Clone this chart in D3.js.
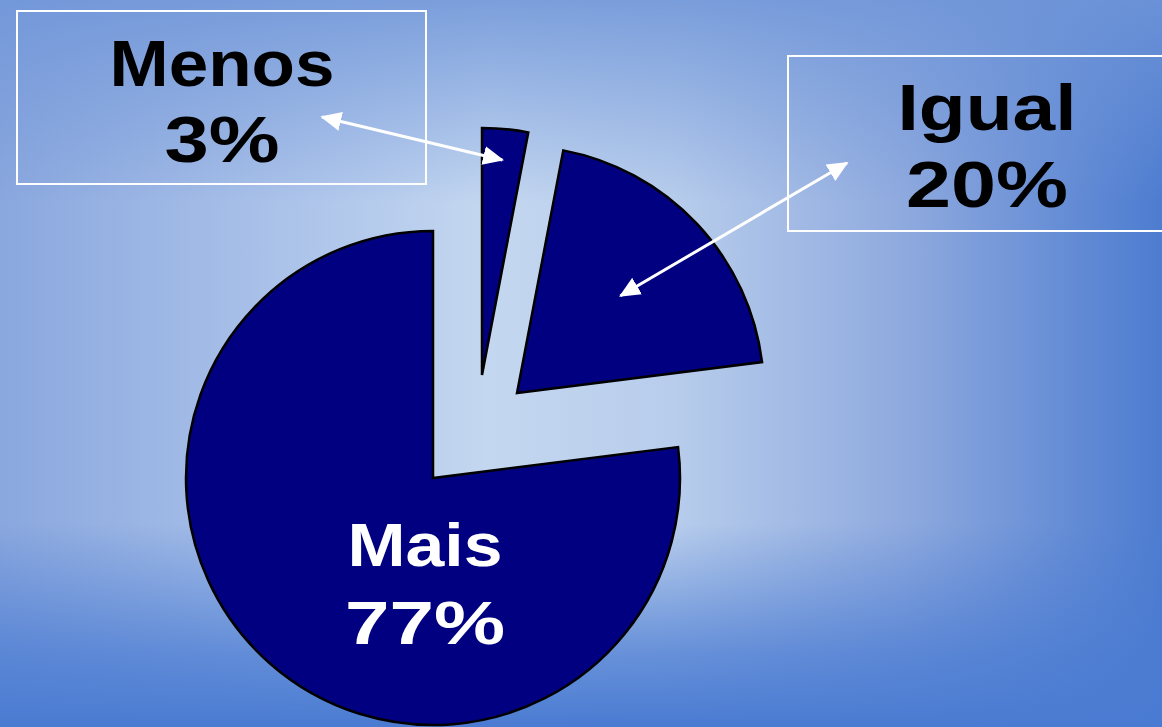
<!DOCTYPE html>
<html>
<head>
<meta charset="utf-8">
<script src="https://cdn.jsdelivr.net/npm/d3@7"></script>
<style>
  html, body { margin: 0; padding: 0; overflow: hidden; }
  svg { display: block; }
  .lbl { font-family: "Liberation Sans", Arial, sans-serif; font-weight: bold; }
</style>
</head>
<body>
<div id="chart"></div>
<script>
const categories = ['Menos', 'Igual', 'Mais'];
const values = [3, 20, 77];
const valueLabels = ['3%', '20%', '77%'];

const width = 1162;
const height = 727;
const center = { x: 433, y: 478 };
const radius = 247;

// how far each slice is pulled out of the pie
const explode = { Menos: [49, -103], Igual: [84, -85], Mais: [0, 0] };
// where the arrow touches each slice, as a distance from its tip
const arrowDepth = { Menos: 216, Igual: 142 };
// label boxes (Mais is written inside its slice)
const boxes = {
  Menos: { x: 17, y: 11, w: 409, h: 173, tx: 222, ty1: 86, ty2: 162, ax: 322, ay: 117, widths: [225, 115] },
  Igual: { x: 788, y: 56, w: 376, h: 175, tx: 987, ty1: 130, ty2: 207, ax: 847, ay: 163, widths: [179, 162] }
};
const inside = { Mais: { tx: 425, ty1: 566, ty2: 644, widths: [155, 160] } };

const svg = d3.select('#chart').append('svg').attr('width', width).attr('height', height);
const defs = svg.append('defs');

const hGrad = defs.append('linearGradient').attr('id', 'bgH').attr('x1', 0).attr('x2', 1).attr('y1', 0).attr('y2', 0);
[[0, '#8aa7de'], [0.3, '#b3c9ec'], [0.42, '#c4d7f0'], [0.58, '#b8cdec'], [0.78, '#8ea9de'], [1, '#4d7cd0']]
  .forEach(([o, c]) => hGrad.append('stop').attr('offset', o).attr('stop-color', c));

const vGrad = defs.append('linearGradient').attr('id', 'bgV').attr('x1', 0).attr('x2', 0).attr('y1', 0).attr('y2', 1);
[[0, '#6f95d8', 0.85], [0.28, '#6f95d8', 0], [0.72, '#4a7bd2', 0], [0.9, '#4a7bd2', 0.75], [1, '#4a7bd2', 1]]
  .forEach(([o, c, a]) => vGrad.append('stop').attr('offset', o).attr('stop-color', c).attr('stop-opacity', a));

defs.append('marker')
  .attr('id', 'head')
  .attr('viewBox', '0 0 12 11')
  .attr('refX', 11)
  .attr('refY', 5.5)
  .attr('markerWidth', 7)
  .attr('markerHeight', 6.4)
  .attr('markerUnits', 'strokeWidth')
  .attr('orient', 'auto-start-reverse')
  .append('path')
  .attr('d', 'M0,0 L12,5.5 L0,11 Z')
  .attr('fill', '#ffffff');

svg.append('rect').attr('width', width).attr('height', height).attr('fill', 'url(#bgH)');
svg.append('rect').attr('width', width).attr('height', height).attr('fill', 'url(#bgV)');

const data = categories.map((c, i) => ({ category: c, value: values[i], label: valueLabels[i] }));
const pie = d3.pie().value((d) => d.value).sort(null).startAngle(0).endAngle(2 * Math.PI);
const arcs = pie(data);
const arc = d3.arc().innerRadius(0).outerRadius(radius);

const slices = svg.append('g').attr('transform', `translate(${center.x},${center.y})`);
slices.selectAll('path')
  .data(arcs)
  .join('path')
  .attr('d', arc)
  .attr('transform', (d) => `translate(${explode[d.data.category][0]},${explode[d.data.category][1]})`)
  .attr('fill', '#000080')
  .attr('stroke', '#000000')
  .attr('stroke-width', 2.5)
  .attr('stroke-linejoin', 'miter');

function twoLines(g, x, y1, y2, lines, widths, color, size) {
  lines.forEach((t, i) => {
    g.append('text')
      .attr('class', 'lbl')
      .attr('x', x)
      .attr('y', i === 0 ? y1 : y2)
      .attr('text-anchor', 'middle')
      .attr('font-size', size)
      .attr('fill', color)
      .attr('textLength', widths[i])
      .attr('lengthAdjust', 'spacingAndGlyphs')
      .text(t);
  });
}

arcs.forEach((d) => {
  const cat = d.data.category;
  const box = boxes[cat];
  if (box) {
    svg.append('rect')
      .attr('x', box.x).attr('y', box.y).attr('width', box.w).attr('height', box.h)
      .attr('fill', 'none').attr('stroke', '#ffffff').attr('stroke-width', 2);
    twoLines(svg, box.tx, box.ty1, box.ty2, [cat, d.data.label], box.widths, '#000000', 64);

    const tip = d3.arc().innerRadius(arrowDepth[cat]).outerRadius(arrowDepth[cat]).centroid(d);
    const ex = center.x + explode[cat][0] + tip[0];
    const ey = center.y + explode[cat][1] + tip[1];
    svg.append('line')
      .attr('x1', box.ax).attr('y1', box.ay)
      .attr('x2', ex).attr('y2', ey)
      .attr('stroke', '#ffffff')
      .attr('stroke-width', 3)
      .attr('marker-start', 'url(#head)')
      .attr('marker-end', 'url(#head)');
  } else {
    const p = inside[cat];
    twoLines(svg, p.tx, p.ty1, p.ty2, [cat, d.data.label], p.widths, '#ffffff', 61);
  }
});
</script>
</body>
</html>
